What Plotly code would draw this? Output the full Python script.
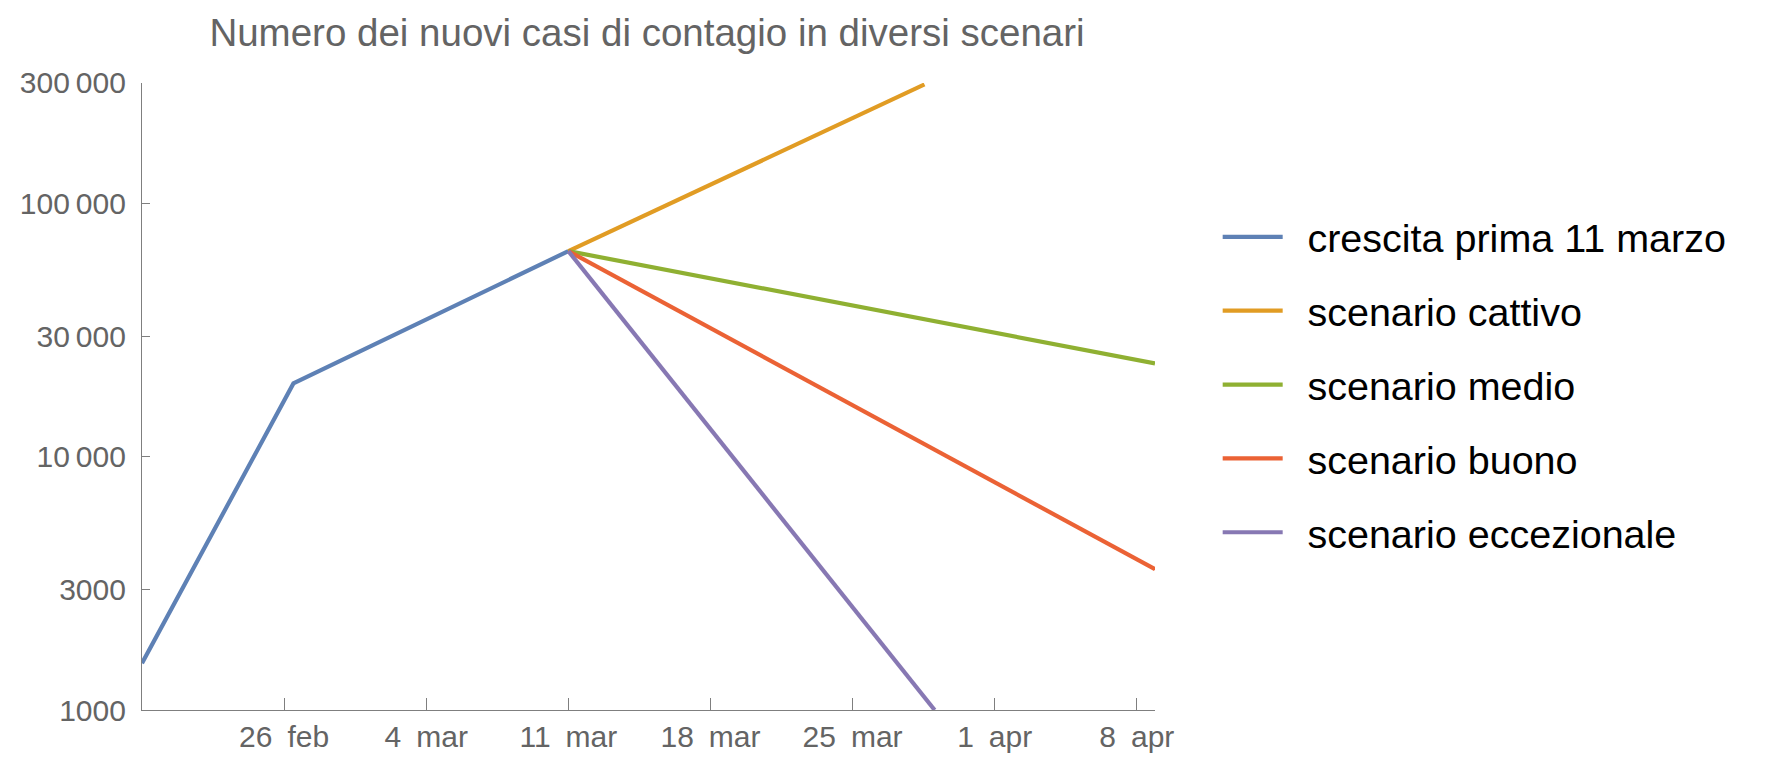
import plotly.graph_objects as go

# ---- data ----
series_names = ["crescita prima 11 marzo", "scenario cattivo", "scenario medio",
                "scenario buono", "scenario eccezionale"]
blue_dates = ["2020-02-19 00:00", "2020-02-26 11:00", "2020-03-11 00:00"]
blue_vals = [1530, 19500, 65000]
orange_dates = ["2020-03-11 00:00", "2020-03-28 13:00"]
orange_vals = [65000, 296000]
green_dates = ["2020-03-11 00:00", "2020-04-08 21:30"]
green_vals = [65000, 23400]
red_dates = ["2020-03-11 00:00", "2020-04-08 21:30"]
red_vals = [65000, 3600]
purple_dates = ["2020-03-11 00:00", "2020-03-29 01:00"]
purple_vals = [65000, 1000]

x_tick_vals = ["2020-02-26", "2020-03-04", "2020-03-11", "2020-03-18",
               "2020-03-25", "2020-04-01", "2020-04-08"]
x_tick_text = ["26\u2002feb", "4\u2002mar", "11\u2002mar", "18\u2002mar",
               "25\u2002mar", "1\u2002apr", "8\u2002apr"]
y_tick_vals = [1000, 3000, 10000, 30000, 100000, 300000]
y_tick_text = ["1000", "3000", "10\u2009000", "30\u2009000", "100\u2009000", "300\u2009000"]

colors = ["#5E81B5", "#E19C24", "#8FB032", "#EB6235", "#8778B3"]

all_x = [blue_dates, orange_dates, green_dates, red_dates, purple_dates]
all_y = [blue_vals, orange_vals, green_vals, red_vals, purple_vals]

fig = go.Figure()
for i, (name, xs, ys) in enumerate(zip(series_names, all_x, all_y)):
    fig.add_trace(go.Scatter(
        x=xs, y=ys, mode="lines", name="\u2002" + name, legendgroup=f"g{i}",
        line=dict(color=colors[i], width=4.2),
    ))

W, H = 1774, 774
OFF = 8  # page body margin
L, R, T, B = 141.7 - OFF, 1155.0 - OFF, 82.7 - OFF, 710.0 - OFF

fig.update_layout(
    width=W, height=H,
    margin=dict(l=L, r=W - R, t=T, b=H - B, pad=0),
    paper_bgcolor="white", plot_bgcolor="white",
    font=dict(family="Liberation Sans, Arial, Helvetica, sans-serif", color="#646464"),
    title=dict(
        text="Numero dei nuovi casi di contagio in diversi scenari",
        x=(647 - OFF) / W, xref="container", xanchor="center",
        y=1 - (33 - OFF) / H, yref="container", yanchor="middle",
        font=dict(size=38.5, color="#646464"),
    ),
    showlegend=True,
    legend=dict(
        x=(1222.7 - OFF - 5 - L) / (R - L), xanchor="left",
        y=1 - (384.5 - OFF - T) / (B - T), yanchor="middle",
        font=dict(size=39.5, color="#000000"),
        itemwidth=60, tracegroupgap=19.5,
        bgcolor="rgba(0,0,0,0)", borderwidth=0,
        itemclick=False,
    ),
    xaxis=dict(
        type="date",
        range=["2020-02-19 00:00", "2020-04-08 21:30"],
        tickvals=x_tick_vals, ticktext=x_tick_text,
        ticks="inside", ticklen=12, tickwidth=1.2, tickcolor="#7f7f7f",
        showline=True, linecolor="#7f7f7f", linewidth=1.2,
        showgrid=False, zeroline=False,
        tickfont=dict(size=30, color="#646464"),
    ),
    yaxis=dict(
        type="log",
        range=[3, 5.4771],
        tickvals=y_tick_vals, ticktext=y_tick_text,
        ticks="inside", ticklen=8, tickwidth=1.2, tickcolor="#7f7f7f",
        showline=True, linecolor="#7f7f7f", linewidth=1.2,
        showgrid=False, zeroline=False, ticklabelstandoff=9,
        tickfont=dict(size=30, color="#646464"),
    ),
)

fig.write_html("out.html")
